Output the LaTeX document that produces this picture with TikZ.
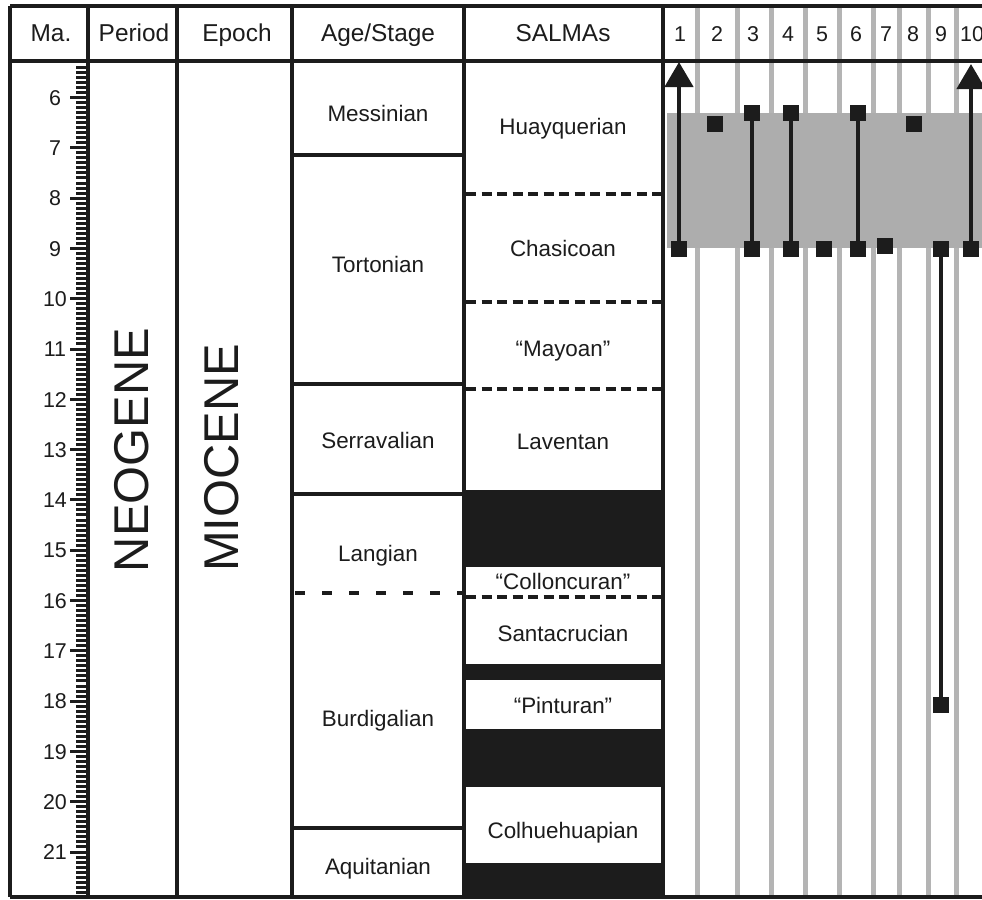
\documentclass[tikz,border=0pt]{standalone}
\usepackage{fontspec}
\setmainfont{Liberation Sans}
\usetikzlibrary{arrows.meta}
\definecolor{ink}{HTML}{1C1C1C}
\definecolor{lgrey}{HTML}{B4B4B4}
\definecolor{band}{HTML}{ADADAD}
\tikzset{
  frameline/.style={line width=4.2bp, draw=ink},
  greyline/.style={line width=5bp, draw=lgrey},
  hdr/.style={font=\fontsize{24.5}{24.5}\selectfont, text=ink, inner sep=0pt, text height=17.5bp, text depth=0pt},
  lbl/.style={font=\fontsize{22.5}{22.5}\selectfont, text=ink, inner sep=0pt, text height=16.1bp, text depth=0pt},
  num/.style={font=\fontsize{21.5}{21.5}\selectfont, text=ink, inner sep=0pt, text height=15.4bp, text depth=0pt},
  big/.style={font=\fontsize{49}{49}\selectfont, text=ink, inner sep=0pt, text height=35bp, text depth=0pt, rotate=90},
  tickline/.style={line width=3bp, draw=ink},
  sq/.style={rectangle, fill=ink, minimum size=16bp, inner sep=0pt},
  bar/.style={line width=4.5bp, draw=ink},
  uparrow/.style={bar, -{Triangle[width=28bp,length=25bp]}},
  dashage/.style={line width=4bp, draw=ink, dash pattern=on 10bp off 17bp},
  dashsal/.style={line width=4bp, draw=ink, dash pattern=on 10bp off 5.5bp},
}
\begin{document}
\begin{tikzpicture}[x=1bp,y=-1bp]
\useasboundingbox (0,0) rectangle (982,900);
\fill[white] (0,0) rectangle (982,900);

% grey column lines of the range panel
\foreach \gx in {697,737,771,805,839,873,899,928,956}{
  \draw[greyline] (\gx,6) -- (\gx,897);
}
% grey band
\fill[band] (667,113) rectangle (982,248);

% black (gap) intervals in SALMA column
\fill[ink] (464,490) rectangle (663,567);
\fill[ink] (464,664) rectangle (663,680);
\fill[ink] (464,729) rectangle (663,787);
\fill[ink] (464,863) rectangle (663,897);

% age boundaries
\draw[frameline] (292,155) -- (464,155);
\draw[frameline] (292,384) -- (464,384);
\draw[frameline] (292,494) -- (464,494);
\draw[dashage] (295,593) -- (464,593);
\draw[frameline] (292,828) -- (464,828);

% SALMA boundaries
\draw[dashsal] (466,194) -- (663,194);
\draw[dashsal] (466,302) -- (663,302);
\draw[dashsal] (466,389) -- (663,389);
\draw[dashsal] (466,597) -- (663,597);

% frame
\draw[frameline] (10,6) -- (982,6);
\draw[frameline] (10,61) -- (982,61);
\draw[frameline] (10,897) -- (982,897);
\foreach \fx in {10,88,177,292,464,663}{
  \draw[frameline] (\fx,6) -- (\fx,897);
}

% scale ticks
\foreach \i in {54,...,218}{
  \pgfmathsetmacro\yy{97.5+5.03*(\i-60)}
  \pgfmathtruncatemacro\mm{mod(\i,10)}
  \ifnum\mm=0
    \draw[tickline] (70,\yy) -- (88,\yy);
  \else
    \draw[tickline] (76,\yy) -- (88,\yy);
  \fi
}
\foreach \m in {6,...,21}{
  \node[num] (ma\m) at (55,{97.5+50.3*(\m-6)}) {\m};
}

% headers
\node[hdr] (hMa) at (51,33) {Ma.};
\node[hdr] (hPer) at (134,33) {Period};
\node[hdr] (hEp) at (237,33) {Epoch};
\node[hdr] (hAge) at (378,33) {Age/Stage};
\node[hdr] (hSal) at (563,33) {SALMAs};
\node[num] (c1) at (680,34) {1};
\node[num] (c2) at (717,34) {2};
\node[num] (c3) at (753,34) {3};
\node[num] (c4) at (788,34) {4};
\node[num] (c5) at (822,34) {5};
\node[num] (c6) at (856,34) {6};
\node[num] (c7) at (886,34) {7};
\node[num] (c8) at (913,34) {8};
\node[num] (c9) at (941,34) {9};
\node[num] (c10) at (972,34) {10};

% period / epoch
\node[big] (neo) at (131,450) {NEOGENE};
\node[big] (mio) at (221,458) {MIOCENE};

% stages
\node[lbl] (mes) at (378,113) {Messinian};
\node[lbl] (tor) at (378,264) {Tortonian};
\node[lbl] (ser) at (378,440) {Serravalian};
\node[lbl] (lan) at (378,553) {Langian};
\node[lbl] (bur) at (378,718) {Burdigalian};
\node[lbl] (aqu) at (378,866) {Aquitanian};

% SALMAs
\node[lbl] (hua) at (563,126) {Huayquerian};
\node[lbl] (cha) at (563,248) {Chasicoan};
\node[lbl] (may) at (563,348) {“Mayoan”};
\node[lbl] (lav) at (563,441) {Laventan};
\node[lbl] (col) at (563,581) {“Colloncuran”};
\node[lbl] (san) at (563,633) {Santacrucian};
\node[lbl] (pin) at (563,705) {“Pinturan”};
\node[lbl] (clh) at (563,830) {Colhuehuapian};

% range bars
\node[sq] (s1b) at (679,249) {};
\coordinate (a1) at (679,62);
\draw[uparrow] (s1b) -- (a1);

\node[sq] (s2) at (715,124) {};

\node[sq] (s3t) at (752,113) {};
\node[sq] (s3b) at (752,249) {};
\draw[bar] (s3t) -- (s3b);

\node[sq] (s4t) at (791,113) {};
\node[sq] (s4b) at (791,249) {};
\draw[bar] (s4t) -- (s4b);

\node[sq] (s5) at (824,249) {};

\node[sq] (s6t) at (858,113) {};
\node[sq] (s6b) at (858,249) {};
\draw[bar] (s6t) -- (s6b);

\node[sq] (s7) at (885,246) {};
\node[sq] (s8) at (914,124) {};

\node[sq] (s9t) at (941,249) {};
\node[sq] (s9b) at (941,705) {};
\draw[bar] (s9t) -- (s9b);

\node[sq] (s10b) at (971,249) {};
\coordinate (a10) at (971,64);
\draw[uparrow] (s10b) -- (a10);
\end{tikzpicture}
\end{document}
